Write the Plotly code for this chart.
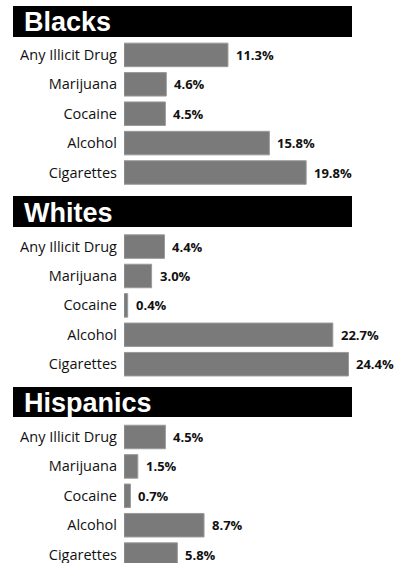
import plotly.graph_objects as go

# data
groups = ["Blacks", "Whites", "Hispanics"]
substances = ["Any Illicit Drug", "Marijuana", "Cocaine", "Alcohol", "Cigarettes"]
blacks = [11.3, 4.6, 4.5, 15.8, 19.8]
whites = [4.4, 3.0, 0.4, 22.7, 24.4]
hispanics = [4.5, 1.5, 0.7, 8.7, 5.8]
values = [blacks, whites, hispanics]

W, H = 396, 563
BAR_X0 = 124          # px where bars start
PX_PER_PCT = 9.2
XMAX = (W - BAR_X0) / PX_PER_PCT

# pixel layout of each panel: (header top, header bottom, axis top, axis bottom)
panels = [(6, 37, 40.2, 188.3), (196, 227, 231.9, 378.1), (387, 417, 422.3, 563)]
pitch = 29.4


def py(p):
    # pixel from top -> paper coord
    return 1 - p / H


fig = go.Figure()
shapes, annots = [], []

for i, (g, vals) in enumerate(zip(groups, values)):
    n = "" if i == 0 else str(i + 1)
    ht, hb, at, ab = panels[i]
    fig.add_trace(go.Bar(
        x=vals, y=substances, orientation="h",
        xaxis="x" + n, yaxis="y" + n,
        marker=dict(color="#7a7a7a", line=dict(color="#9a9a9a", width=1)),
        hoverinfo="x+y", showlegend=False,
    ))
    span = (ab - at) / pitch
    fig.layout["xaxis" + n] = dict(
        domain=[BAR_X0 / W, 1], range=[0, XMAX], visible=False,
        anchor="y" + n, fixedrange=True,
    )
    fig.layout["yaxis" + n] = dict(
        domain=[py(ab), py(at)], range=[-0.5 + span, -0.5],
        type="category", categoryorder="array", categoryarray=substances,
        anchor="x" + n, showgrid=False, zeroline=False, showline=False,
        ticks="", ticklabelstandoff=6,
        tickfont=dict(family="Open Sans", size=14.5, color="#111111"),
        fixedrange=True,
    )
    # black header bar
    shapes.append(dict(type="rect", xref="paper", yref="paper",
                       x0=13 / W, x1=352 / W, y0=py(hb), y1=py(ht),
                       fillcolor="black", line=dict(width=0), layer="below"))
    annots.append(dict(text="<b>%s</b>" % g, xref="paper", yref="paper",
                       x=22 / W, y=py((ht + hb) / 2 + 1), xanchor="left", yanchor="middle",
                       showarrow=False,
                       font=dict(family="Liberation Sans", size=27, color="white")))
    # value labels after each bar
    for s, v in zip(substances, vals):
        annots.append(dict(text="%.1f%%" % v, x=v, y=s, xref="x" + n, yref="y" + n,
                           xanchor="left", yanchor="middle", xshift=6, showarrow=False,
                           font=dict(family="Open Sans", size=13, color="#111111",
                                     weight="bold")))

fig.update_layout(
    width=W, height=H, margin=dict(l=0, r=0, t=0, b=0),
    paper_bgcolor="white", plot_bgcolor="white",
    bargap=0.2, shapes=shapes, annotations=annots,
)

fig.write_html("out.html", config={"displayModeBar": False},
               post_script="document.body.style.margin='0px';")
